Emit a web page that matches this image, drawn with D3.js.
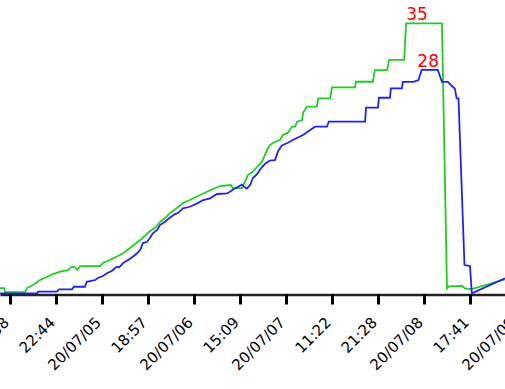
<!DOCTYPE html>
<html>
<head>
<meta charset="utf-8">
<script src="https://cdn.jsdelivr.net/npm/d3@7"></script>
<style>
  body { margin: 0; background: #fff; }
  svg { display: block; }
</style>
</head>
<body>
<svg id="chart" width="505" height="389"></svg>
<script>
// sample position (10 per tick) and value for each series
const greenIdx = [-2.2, -1.3, -1.1, 3.3, 3.7, 5.4, 6.5, 8.0, 9.3, 10.9, 12.6, 13.3, 14.1, 14.6, 15.2, 19.6, 20.2, 21.7, 23.9, 25.0, 26.1, 27.2, 28.3, 29.3, 30.4, 31.5, 32.6, 33.7, 34.8, 36.3, 37.6, 39.1, 41.3, 42.8, 44.1, 45.7, 48.0, 48.5, 50.4, 51.1, 51.7, 52.8, 53.7, 54.8, 55.4, 55.9, 56.5, 57.6, 58.7, 59.3, 60.4, 61.3, 62.0, 62.4, 63.5, 63.7, 64.5, 66.7, 67.0, 69.6, 70.0, 75.0, 75.2, 78.9, 79.3, 82.0, 82.4, 85.7, 86.1, 93.9, 95.0, 95.4, 98.3, 98.9, 100.4, 107.6];
const greenVal = [-4.85, -4.85, -5.45, -5.45, -4.85, -4.25, -3.64, -3.19, -2.74, -2.39, -2.14, -1.69, -1.69, -2.14, -1.54, -1.54, -1.08, -0.63, 0.12, 0.57, 1.17, 1.78, 2.38, 2.98, 3.73, 4.19, 5.09, 5.69, 6.44, 7.2, 7.95, 8.4, 9.16, 9.65, 10.06, 10.51, 10.66, 10.16, 10.21, 11.16, 12.16, 12.66, 13.41, 14.17, 15.17, 15.93, 16.68, 17.18, 17.43, 18.19, 18.5, 19.44, 19.44, 20.19, 20.44, 21.5, 22.45, 22.45, 23.71, 23.71, 25.37, 25.37, 26.21, 26.21, 27.97, 27.97, 29.5, 29.5, 35, 35, -4.89, -4.59, -4.51, -4.89, -5.0, -3.54];

const blueIdx = [-2.2, 5.9, 6.1, 10.2, 10.7, 13.5, 13.9, 16.3, 16.7, 18.5, 19.1, 20.2, 21.1, 22.2, 22.8, 23.3, 23.7, 24.6, 25.7, 26.7, 27.6, 28.3, 28.9, 29.8, 30.4, 31.1, 32.0, 32.6, 33.7, 34.8, 35.9, 36.5, 37.6, 39.1, 40.7, 42.0, 43.5, 45.0, 47.2, 47.8, 48.9, 49.6, 50.4, 51.1, 51.5, 52.2, 52.8, 53.7, 54.6, 55.4, 56.5, 57.6, 58.3, 59.1, 60.2, 61.5, 63.7, 66.3, 68.9, 69.3, 77.2, 77.4, 80.0, 80.2, 82.6, 82.8, 85.2, 85.4, 87.7, 88.8, 89.5, 93.0, 93.9, 95.2, 96.0, 96.7, 97.1, 97.5, 98.8, 100.0, 100.4, 107.6];
const blueVal = [-5.64, -5.64, -5.4, -5.4, -5.04, -5.04, -4.65, -4.65, -3.9, -3.64, -3.34, -3.04, -2.63, -2.24, -1.88, -1.64, -1.76, -1.08, -0.63, -0.13, 0.38, 0.87, 1.93, 2.12, 2.68, 3.43, 3.89, 4.64, 5.13, 5.76, 6.29, 6.44, 7.15, 7.39, 7.9, 8.4, 8.66, 9.31, 9.41, 9.65, 10.16, 10.4, 10.73, 10.28, 10.13, 10.66, 11.72, 12.31, 13.22, 13.82, 14.35, 14.42, 15.78, 16.61, 16.94, 17.43, 18.19, 19.44, 19.44, 20.2, 20.2, 22.3, 22.3, 23.8, 23.8, 25.2, 25.2, 26.2, 26.2, 26.45, 28, 28, 26.2, 26.2, 25.6, 25.2, 23.7, 23.7, -1.39, -1.54, -5.64, -3.39];

const tickIdx = [0, 10, 20, 30, 40, 50, 60, 70, 80, 90, 100, 110];
const tickLabels = ["09:58", "22:44", "20/07/05", "18:57", "20/07/06", "15:09", "20/07/07", "11:22", "21:28", "20/07/08", "17:41", "20/07/09"];

// max annotations: sample position where the label sits, and the value shown
const maxLabels = [
    { idx: 88.5, value: 35 },
    { idx: 90.9, value: 28 }
];

const seriesColor = ["#22cc22", "#2222ee"];

const svg = d3.select("#chart");

const x = d3.scaleLinear()
    .domain([-10 / 4.6, 495 / 4.6])
    .range([0, 505]);

const y = d3.scaleLinear()
    .domain([-6, 36])
    .range([295.7, 16.7]);

const axisY = 294.5;

const xAxis = svg.append("g")
    .attr("transform", `translate(0, ${axisY})`)
    .call(d3.axisBottom(x)
        .tickValues(tickIdx)
        .tickFormat((d, i) => tickLabels[i])
        .tickSize(10)
        .tickSizeOuter(0));

xAxis.select(".domain")
    .attr("stroke", "#222")
    .attr("stroke-width", 2.5);

xAxis.selectAll(".tick line")
    .attr("stroke", "#000")
    .attr("stroke-width", 3);

xAxis.selectAll(".tick text")
    .attr("x", 0)
    .attr("y", 0)
    .attr("dy", 0)
    .attr("transform", "translate(-0.5, 29) rotate(-45)")
    .style("text-anchor", "end")
    .style("font-family", "'DejaVu Sans', Verdana, sans-serif")
    .style("font-size", "15px")
    .attr("fill", "#000");

const series = [
    d3.zip(greenIdx, greenVal),
    d3.zip(blueIdx, blueVal)
];

const line = d3.line()
    .x(d => x(d[0]))
    .y(d => y(d[1]));

svg.selectAll(".series")
    .data(series)
    .enter()
    .append("path")
    .attr("class", "series")
    .attr("fill", "none")
    .attr("stroke", (d, i) => seriesColor[i])
    .attr("stroke-width", 1.8)
    .attr("stroke-linejoin", "miter")
    .attr("d", d => line(d));

svg.selectAll(".maxlabel")
    .data(maxLabels)
    .enter()
    .append("text")
    .attr("class", "maxlabel")
    .attr("x", d => x(d.idx))
    .attr("y", d => y(d.value) - 3)
    .attr("text-anchor", "middle")
    .style("font-family", "'DejaVu Sans', Verdana, sans-serif")
    .style("font-size", "17px")
    .attr("fill", "#ff0000")
    .text(d => d.value);
</script>
</body>
</html>
